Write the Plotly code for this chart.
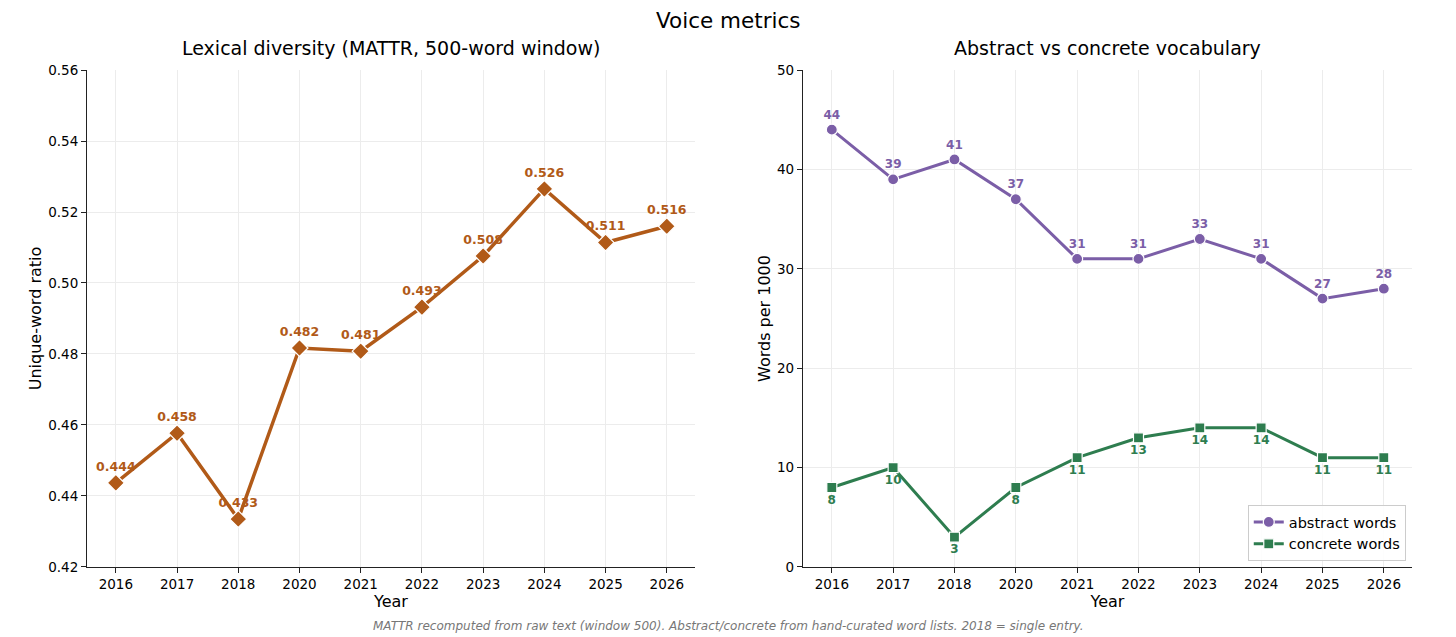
import plotly.graph_objects as go
from plotly.subplots import make_subplots

# ---------- data ----------
years = ['2016', '2017', '2018', '2020', '2021', '2022', '2023', '2024', '2025', '2026']
mattr = [0.4437, 0.4577, 0.4335, 0.4817, 0.4808, 0.4932, 0.5076, 0.5265, 0.5114, 0.5160]
mattr_labels = ['0.444', '0.458', '0.433', '0.482', '0.481', '0.493', '0.508', '0.526', '0.511', '0.516']
abstract_words = [44, 39, 41, 37, 31, 31, 33, 31, 27, 28]
concrete_words = [8, 10, 3, 8, 11, 13, 14, 14, 11, 11]

BROWN = '#b15a18'
PURPLE = '#7b5ea7'
GREEN = '#2e7d4f'
FONT = 'DejaVu Sans'

fig = make_subplots(rows=1, cols=2)

# ---------- left: MATTR ----------
fig.add_trace(go.Scatter(x=years, y=mattr, mode='lines+markers+text',
                         text=mattr_labels, textposition='top center',
                         textfont=dict(color=BROWN, size=12.5, family=FONT, weight='bold'),
                         line=dict(color=BROWN, width=3.5),
                         marker=dict(symbol='diamond', size=13, color=BROWN,
                                     line=dict(color='white', width=1.2)),
                         showlegend=False), row=1, col=1)

# ---------- right: abstract vs concrete ----------
fig.add_trace(go.Scatter(x=years, y=abstract_words, mode='lines+markers+text',
                         name='abstract words',
                         text=[str(v) for v in abstract_words], textposition='top center',
                         textfont=dict(color=PURPLE, size=12, family=FONT, weight='bold'),
                         line=dict(color=PURPLE, width=3),
                         marker=dict(symbol='circle', size=11, color=PURPLE,
                                     line=dict(color='white', width=1.2))), row=1, col=2)
fig.add_trace(go.Scatter(x=years, y=concrete_words, mode='lines+markers+text',
                         name='concrete words',
                         text=[str(v) for v in concrete_words], textposition='bottom center',
                         textfont=dict(color=GREEN, size=12, family=FONT, weight='bold'),
                         line=dict(color=GREEN, width=3),
                         marker=dict(symbol='square', size=10, color=GREEN,
                                     line=dict(color='white', width=1.2))), row=1, col=2)

axis_style = dict(showline=True, linecolor='#222222', linewidth=1.3, mirror=False,
                  ticks='outside', ticklen=5, tickcolor='#222222', automargin=False,
                  showgrid=True, gridcolor='#ececec', gridwidth=1, zeroline=False,
                  tickfont=dict(size=13.5, family=FONT, color='black'))

fig.update_xaxes(axis_style)
fig.update_yaxes(axis_style)

fig.update_xaxes(type='category', range=[-0.47, 9.46],
                 title=dict(text='Year', font=dict(size=16, family=FONT), standoff=3))
fig.update_xaxes(domain=[0.0598, 0.4773], row=1, col=1)
fig.update_xaxes(domain=[0.5515, 0.9698], row=1, col=2)
fig.update_yaxes(domain=[0.1099, 0.8901])

fig.update_yaxes(range=[0.42, 0.56], dtick=0.02, tickformat='.2f',
                 title=dict(text='Unique-word ratio', font=dict(size=16, family=FONT), standoff=2),
                 row=1, col=1)
fig.update_yaxes(range=[0, 50], dtick=10,
                 title=dict(text='Words per 1000', font=dict(size=16, family=FONT), standoff=2),
                 row=1, col=2)

fig.update_layout(
    width=1456, height=637,
    margin=dict(l=0, r=0, t=0, b=0),
    plot_bgcolor='white', paper_bgcolor='white',
    font=dict(family=FONT, color='black'),
    legend=dict(x=0.9655, y=1 - 561 / 637, xanchor='right', yanchor='bottom',
                bgcolor='rgba(255,255,255,0.9)', bordercolor='#cccccc', borderwidth=1,
                font=dict(size=14.5, family=FONT), tracegroupgap=0),
    annotations=[
        dict(text='Voice metrics', x=0.5, y=1 - 21 / 637, xref='paper', yref='paper',
             showarrow=False, font=dict(size=21.5, family=FONT),
             xanchor='center', yanchor='middle'),
        dict(text='Lexical diversity (MATTR, 500-word window)', x=(0.0598 + 0.4773) / 2,
             y=1 - 48 / 637, xref='paper', yref='paper', showarrow=False,
             font=dict(size=19, family=FONT), xanchor='center', yanchor='middle'),
        dict(text='Abstract vs concrete vocabulary', x=(0.5515 + 0.9698) / 2,
             y=1 - 48 / 637, xref='paper', yref='paper', showarrow=False,
             font=dict(size=19, family=FONT), xanchor='center', yanchor='middle'),
        dict(text='<i>MATTR recomputed from raw text (window 500). Abstract/concrete from '
                  'hand-curated word lists. 2018 = single entry.</i>',
             x=0.5, y=1 - 626 / 637, xref='paper', yref='paper', showarrow=False,
             font=dict(size=12, family=FONT, color='#777777'),
             xanchor='center', yanchor='middle'),
    ],
)

fig.write_html('out.html', config={'displayModeBar': False},
               post_script="document.body.style.margin='0';")
